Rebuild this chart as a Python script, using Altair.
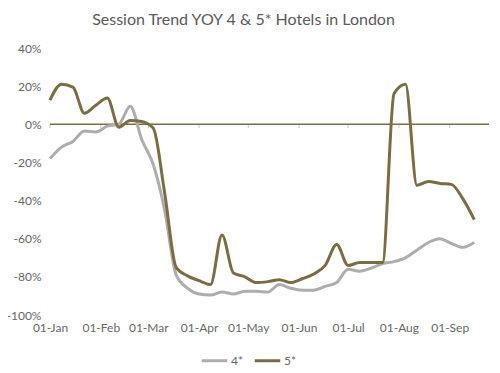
import altair as alt
import pandas as pd

start = "2020-01-01"
weeks = 38
dates = pd.date_range(start, periods=weeks, freq="7D")

four_star = [-18, -12, -9, -3.5, -4, -1, 0, 9.5, -8, -21,
             -45, -79, -86, -89, -89.5, -88, -89, -87.5, -87.5, -88,
             -84, -86, -87, -87, -85, -83, -76, -77, -75.5, -73,
             -72, -70, -66, -62, -60, -62.5, -64.5, -62]
five_star = [12.7, 21, 19.5, 5.8, 10, 13.8, -1.5, 2, 1.5, -2,
             -36, -75, -79.5, -82, -84, -58, -78, -80, -83, -82.5,
             -81.5, -83, -81, -78.5, -74, -63, -74, -72.5, -72.5, -72.5,
             16, 21, -32, -30, -31, -31.5, -39, -50]

series_names = ["4*", "5*"]
colors = ["#ADADAD", "#7A6D44"]
month_ticks = ["2020-01-01", "2020-02-01", "2020-03-01", "2020-04-01", "2020-05-01",
               "2020-06-01", "2020-07-01", "2020-08-01", "2020-09-01"]
y_ticks = [-100, -80, -60, -40, -20, 0, 20, 40]

df = pd.DataFrame({
    "date": list(dates) * 2,
    "value": four_star + five_star,
    "series": ["4*"] * weeks + ["5*"] * weeks,
})
ticks_df = pd.DataFrame({"date": pd.to_datetime(month_ticks)})

font = "Lato"
xscale = alt.Scale(domain=[pd.Timestamp("2020-01-01").isoformat(), pd.Timestamp("2020-09-25").isoformat()])
yscale = alt.Scale(domain=[-100, 40], nice=False)

xaxis = alt.Axis(title=None, format="%d-%b", values=[pd.Timestamp(m).isoformat() for m in month_ticks],
                 domain=False, ticks=False, grid=False, labelPadding=7)
yaxis = alt.Axis(title=None, values=y_ticks, labelExpr="datum.value + '%'",
                 domain=False, ticks=False, grid=False, labelPadding=9)

tick_marks = alt.Chart(ticks_df).transform_calculate(y0="0", y1="-2").mark_rule(
    color="#C8C8C8", strokeWidth=1).encode(
    x=alt.X("date:T", scale=xscale, axis=xaxis),
    y=alt.Y("y0:Q", scale=yscale, axis=yaxis),
    y2="y1:Q",
)

zero = alt.Chart(pd.DataFrame({"v": [0]})).mark_rule(color="#7A6D44", strokeWidth=1.5).encode(
    y=alt.Y("v:Q", scale=yscale, axis=yaxis)
)

lines = alt.Chart(df).mark_line(interpolate="monotone", strokeWidth=3).encode(
    x=alt.X("date:T", scale=xscale, axis=xaxis),
    y=alt.Y("value:Q", scale=yscale, axis=yaxis),
    color=alt.Color("series:N", scale=alt.Scale(domain=series_names, range=colors),
                    legend=alt.Legend(title=None, orient="none", direction="horizontal",
                                      legendX=150, legendY=298, symbolType="stroke",
                                      symbolStrokeWidth=3, symbolSize=650, labelFont=font,
                                      labelFontSize=12, labelColor="#666666", columnPadding=4,
                                      labelOffset=2)),
)

chart = alt.layer(tick_marks, zero, lines).properties(
    width=439, height=267,
    title=alt.TitleParams("Session Trend YOY 4 & 5* Hotels in London", font=font, fontSize=16,
                          fontWeight="normal", color="#5A5A5A", anchor="middle", dx=-26, offset=14),
    padding={"left": 42, "top": 40, "right": 3, "bottom": 58},
    autosize="none",
).configure_view(stroke=None).configure_axis(
    labelOverlap=False, labelFlush=False, labelFont=font, labelFontSize=12, labelColor="#666666"
)

chart.save("out.html", embed_options={"renderer": "svg", "actions": False})
